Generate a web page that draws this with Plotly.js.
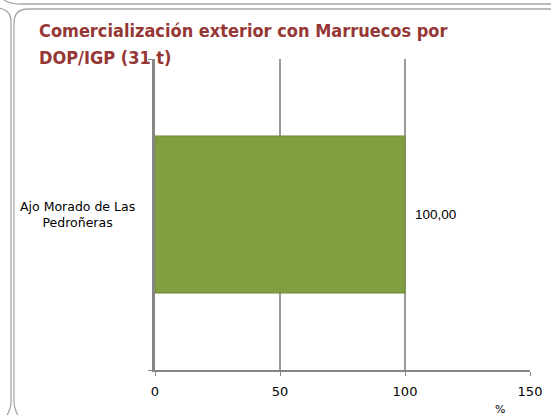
<!DOCTYPE html>
<html>
<head>
<meta charset="utf-8">
<script src="https://cdn.plot.ly/plotly-3.0.1.min.js"></script>
<style>
html,body{margin:0;padding:0;background:#fff;}
#wrap{position:relative;width:551px;height:415px;overflow:hidden;}
#frame{position:absolute;left:0;top:0;}
#chart{position:absolute;left:0;top:0;width:551px;height:415px;}
</style>
</head>
<body>
<div id="wrap">
<svg id="frame" width="551" height="415">
  <g fill="none" stroke="#a6a6a6" stroke-width="1.3">
    <path d="M 1,-4 Q 5,4 20,4 L 560,4"/>
    <path d="M -5,8 Q 11,8 11,22 L 11,402 Q 11,410 4,420"/>
    <path d="M 560,9 L 28,9 Q 14,9 14,23 L 14,402 Q 14,410 21,420"/>
  </g>
</svg>
<div id="chart"></div>
</div>
<script>
const titleLines = ["Comercialización exterior con Marruecos por", "DOP/IGP (31 t)"];
const categories = ["Ajo Morado de Las<br>Pedroñeras"];
const values = [100.00];
const xTickVals = [0, 50, 100, 150];
const xAxisTitle = "%";

const data = [{
  type: 'bar',
  orientation: 'h',
  y: categories,
  x: values,
  width: 0.505,
  marker: {color: '#80a03f', line: {color: '#6f8c35', width: 1}},
  hoverinfo: 'none'
}];

const titleFont = {family: 'DejaVu Sans Condensed, DejaVu Sans, sans-serif', size: 18, color: '#953735'};
const titleY = [(370 - 30) / 311, (370 - 57) / 311];

const annotations = titleLines.map((t, i) => ({
  text: '<b>' + t + '</b>', xref: 'paper', yref: 'paper',
  x: (37 - 155) / 375, xanchor: 'left', y: titleY[i], yanchor: 'middle',
  showarrow: false, align: 'left', font: titleFont
}));

annotations.push({
  text: categories[0], xref: 'paper', yref: 'y',
  x: -78 / 375, xanchor: 'center', y: categories[0], yanchor: 'middle',
  showarrow: false, align: 'center',
  font: {family: 'DejaVu Sans, sans-serif', size: 12.5, color: '#000'}
});

values.forEach((v, i) => annotations.push({
  text: v.toFixed(2).replace('.', ','), xref: 'x', yref: 'y',
  x: v, y: categories[i], xanchor: 'left', yanchor: 'middle', xshift: 8,
  showarrow: false,
  font: {family: 'Liberation Sans, Arial, sans-serif', size: 13.5, color: '#000'}
}));

annotations.push({
  text: xAxisTitle, xref: 'paper', yref: 'paper',
  x: (500 - 155) / 375, xanchor: 'center', y: -31 / 311, yanchor: 'top',
  showarrow: false,
  font: {family: 'DejaVu Sans, sans-serif', size: 11, color: '#000'}
});

const layout = {
  width: 551, height: 415,
  paper_bgcolor: 'rgba(0,0,0,0)',
  plot_bgcolor: 'rgba(0,0,0,0)',
  margin: {l: 155, r: 21, t: 59, b: 45},
  showlegend: false,
  xaxis: {
    range: [0, 150],
    tickvals: xTickVals,
    ticktext: xTickVals.map(String),
    showgrid: true, gridcolor: '#9a9a9a', gridwidth: 1.3,
    showline: true, linecolor: '#868686', linewidth: 2,
    ticks: 'outside', ticklen: 4, tickcolor: '#868686',
    ticklabelstandoff: 4,
    zeroline: false,
    tickfont: {family: 'DejaVu Sans, sans-serif', size: 13, color: '#000'},
    fixedrange: true
  },
  yaxis: {
    range: [-0.5, 0.5],
    showticklabels: false,
    showline: true, linecolor: '#868686', linewidth: 3,
    ticks: 'outside', ticklen: 4, tickcolor: '#868686',
    tickson: 'boundaries',
    showgrid: false, zeroline: false,
    fixedrange: true
  },
  annotations: annotations
};

Plotly.newPlot('chart', data, layout, {displayModeBar: false, staticPlot: true});
</script>
</body>
</html>
